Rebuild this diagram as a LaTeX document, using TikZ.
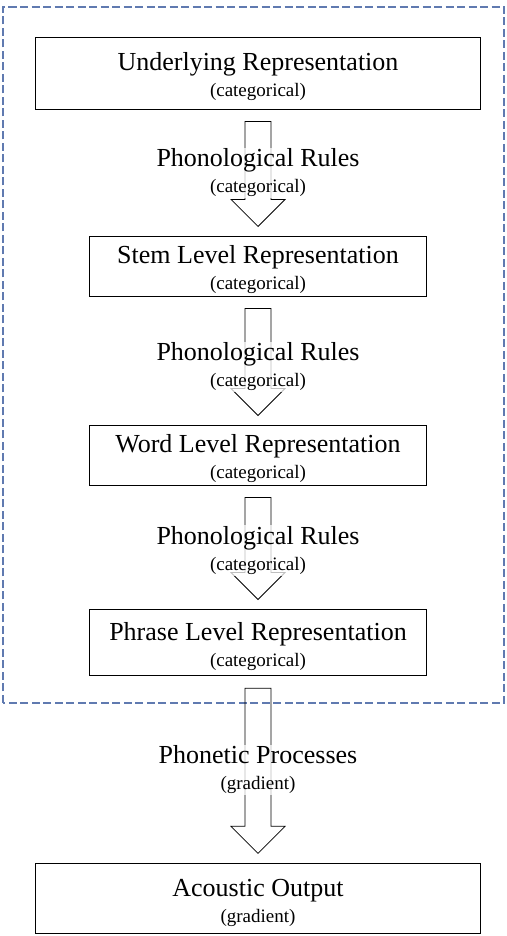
\documentclass[tikz,border=0pt]{standalone}
\usepackage{fontspec}
\setmainfont{Liberation Serif}
\usetikzlibrary{positioning,calc}

\definecolor{frameblue}{RGB}{96,122,176}
\newcommand{\bigsz}{\fontsize{26}{26}\selectfont}
\newcommand{\smallsz}{\fontsize{19}{26}\selectfont}
\newcommand{\topgap}{\rule{0pt}{25pt}}

% hollow block arrow from the bottom of one box to the top of the next
\newcommand{\hollowarrow}[2]{%
	\draw[arrowline] ($(#1.south)+(-13,-12)$) -- ($(#1.south)+(13,-12)$)
		-- ($(#2.north)+(13,37)$) -- ($(#2.north)+(27,37)$) -- ($(#2.north)+(0,10)$)
		-- ($(#2.north)+(-27,37)$) -- ($(#2.north)+(-13,37)$) -- cycle;}

\begin{document}
\begin{tikzpicture}[x=1pt,y=1pt,
		levelbox/.style={draw,line width=0.9pt,align=center,font=\bigsz,inner sep=2pt},
		arrowline/.style={draw,line width=0.8pt},
		rulelabel/.style={align=center,font=\bigsz,fill=white,fill opacity=0.75,text opacity=1,inner sep=1pt}]
		\useasboundingbox (0,0) rectangle (506,936);

		% dashed frame round the phonological part
		\draw[frameblue,line width=1.1pt,dash pattern=on 8pt off 3.5pt] (3,233) rectangle (504,929);

		\node[levelbox,minimum width=445,minimum height=72]		at (258,863)	(ur)		{\topgap Underlying Representation\\{\smallsz (categorical)}};
		\node[levelbox,minimum width=337,minimum height=59,node distance=127,below=of ur]		(stem)		{\topgap Stem Level Representation\\{\smallsz (categorical)}};
		\node[levelbox,minimum width=337,minimum height=58,node distance=129,below=of stem]	(word)		{\topgap Word Level Representation\\{\smallsz (categorical)}};
		\node[levelbox,minimum width=337,minimum height=66,node distance=124,below=of word]	(phrase)	{\topgap Phrase Level Representation\\{\smallsz (categorical)}};
		\node[levelbox,minimum width=445,minimum height=70,node distance=187,below=of phrase]	(output)	{\topgap Acoustic Output\\{\smallsz (gradient)}};

		\hollowarrow{ur}{stem}
		\hollowarrow{stem}{word}
		\hollowarrow{word}{phrase}
		\hollowarrow{phrase}{output}

		\node[rulelabel] at ($(ur.south)!0.5!(stem.north)$)			(rules1)	{Phonological Rules\\{\smallsz (categorical)}};
		\node[rulelabel] at ($(stem.south)!0.5!(word.north)+(0,-6)$)	(rules2)	{Phonological Rules\\{\smallsz (categorical)}};
		\node[rulelabel] at ($(word.south)!0.5!(phrase.north)+(0,-3)$)	(rules3)	{Phonological Rules\\{\smallsz (categorical)}};
		\node[rulelabel] at ($(phrase.south)!0.5!(output.north)$)		(phonetic)	{Phonetic Processes\\{\smallsz (gradient)}};
	\end{tikzpicture}
\end{document}
